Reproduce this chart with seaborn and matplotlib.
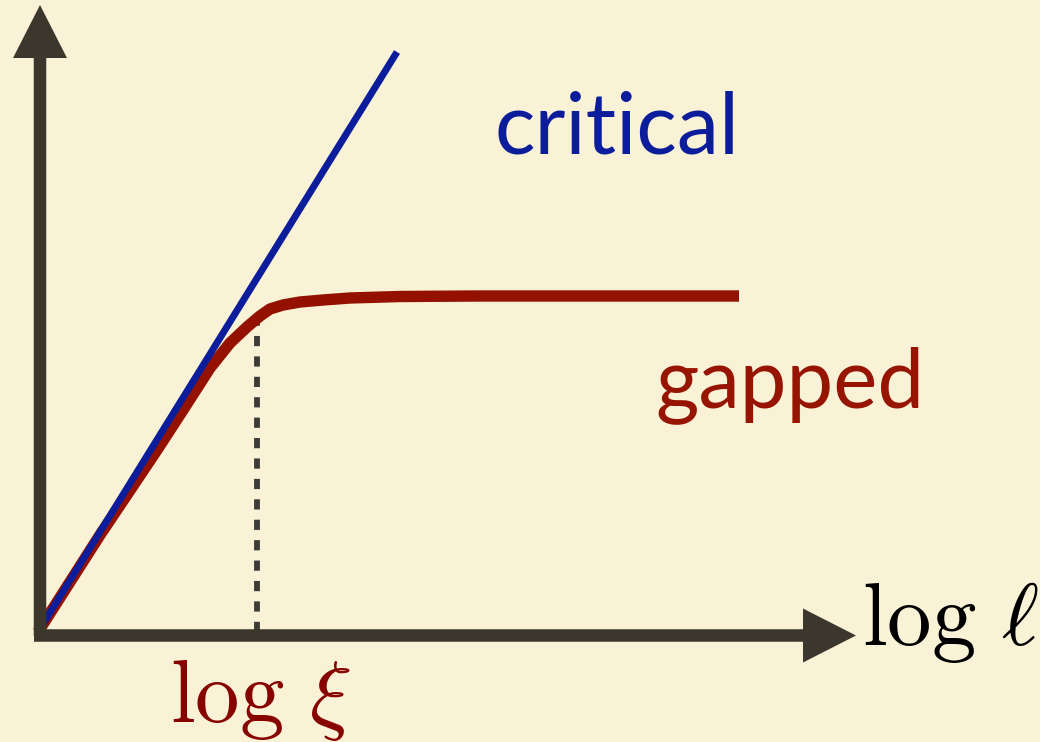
import matplotlib
matplotlib.use("Agg")
import matplotlib.pyplot as plt
from matplotlib.patches import FancyArrow
import seaborn as sns
import pandas as pd

# Schematic: entanglement-like growth vs log of subsystem size
critical_x = [0.0, 3.59]
critical_y = [0.0, 5.80]

gapped_x = [0.00, 0.62, 1.19, 1.45, 1.72, 1.92, 2.09, 2.22, 2.32, 2.45,
            2.62, 2.85, 3.12, 3.62, 4.40, 5.40, 6.40, 7.01]
gapped_y = [0.00, 0.97, 1.82, 2.22, 2.64, 2.89, 3.05, 3.16, 3.23, 3.27,
            3.30, 3.32, 3.34, 3.355, 3.36, 3.36, 3.36, 3.36]

xi_position = 2.19          # log xi, where the gapped curve saturates
xi_height = 3.20

labels = {"critical": "critical", "gapped": "gapped",
          "xaxis": r"$\log\,\ell$", "xi": r"$\log\,\xi$"}

BG = "#faf2d6"
AXIS = "#3b372d"
BLUE = "#0b1d9b"
RED = "#941100"
DARKRED = "#860300"

sns.set_theme(style="white", rc={"axes.facecolor": BG, "figure.facecolor": BG})
plt.rcParams["mathtext.fontset"] = "cm"

fig = plt.figure(figsize=(10.4, 7.42), dpi=100)
ax = fig.add_axes([0, 0, 1, 1])
ax.set_xlim(-0.38, 10.02)
ax.set_ylim(-1.10, 6.32)
ax.set_axis_off()

df_gap = pd.DataFrame({"x": gapped_x, "y": gapped_y})
df_crit = pd.DataFrame({"x": critical_x, "y": critical_y})

# dashed marker at log xi
ax.plot([xi_position, xi_position], [0, xi_height], color="#3d3b36",
        lw=4.2, dashes=(1.75, 1.75), solid_capstyle="butt", zorder=2)

sns.lineplot(data=df_gap, x="x", y="y", sort=False, color=RED, lw=8.2,
             ax=ax, zorder=3, solid_capstyle="butt", solid_joinstyle="round")
sns.lineplot(data=df_crit, x="x", y="y", sort=False, color=BLUE, lw=5.0,
             ax=ax, zorder=4, solid_capstyle="butt")

# axes with arrowheads
ax.add_patch(FancyArrow(0.02, -0.04, 0, 6.31, width=0.125, head_width=0.54,
                        head_length=0.53, length_includes_head=True,
                        color=AXIS, lw=0, zorder=5))
ax.add_patch(FancyArrow(-0.04, -0.035, 8.22, 0, width=0.125, head_width=0.54,
                        head_length=0.53, length_includes_head=True,
                        color=AXIS, lw=0, zorder=5))

ax.text(4.57, 4.79, labels["critical"], color=BLUE, fontsize=61,
        family="Lato", ha="left", va="baseline")
ax.text(6.17, 2.25, labels["gapped"], color="#961400", fontsize=60,
        family="Lato", ha="left", va="baseline")
ax.text(8.24, -0.13, labels["xaxis"], color="black", fontsize=64,
        ha="left", va="baseline")
ax.text(1.32, -0.90, labels["xi"], color=DARKRED, fontsize=64,
        ha="left", va="baseline")

fig.savefig("out.png", dpi=100, facecolor=BG)
